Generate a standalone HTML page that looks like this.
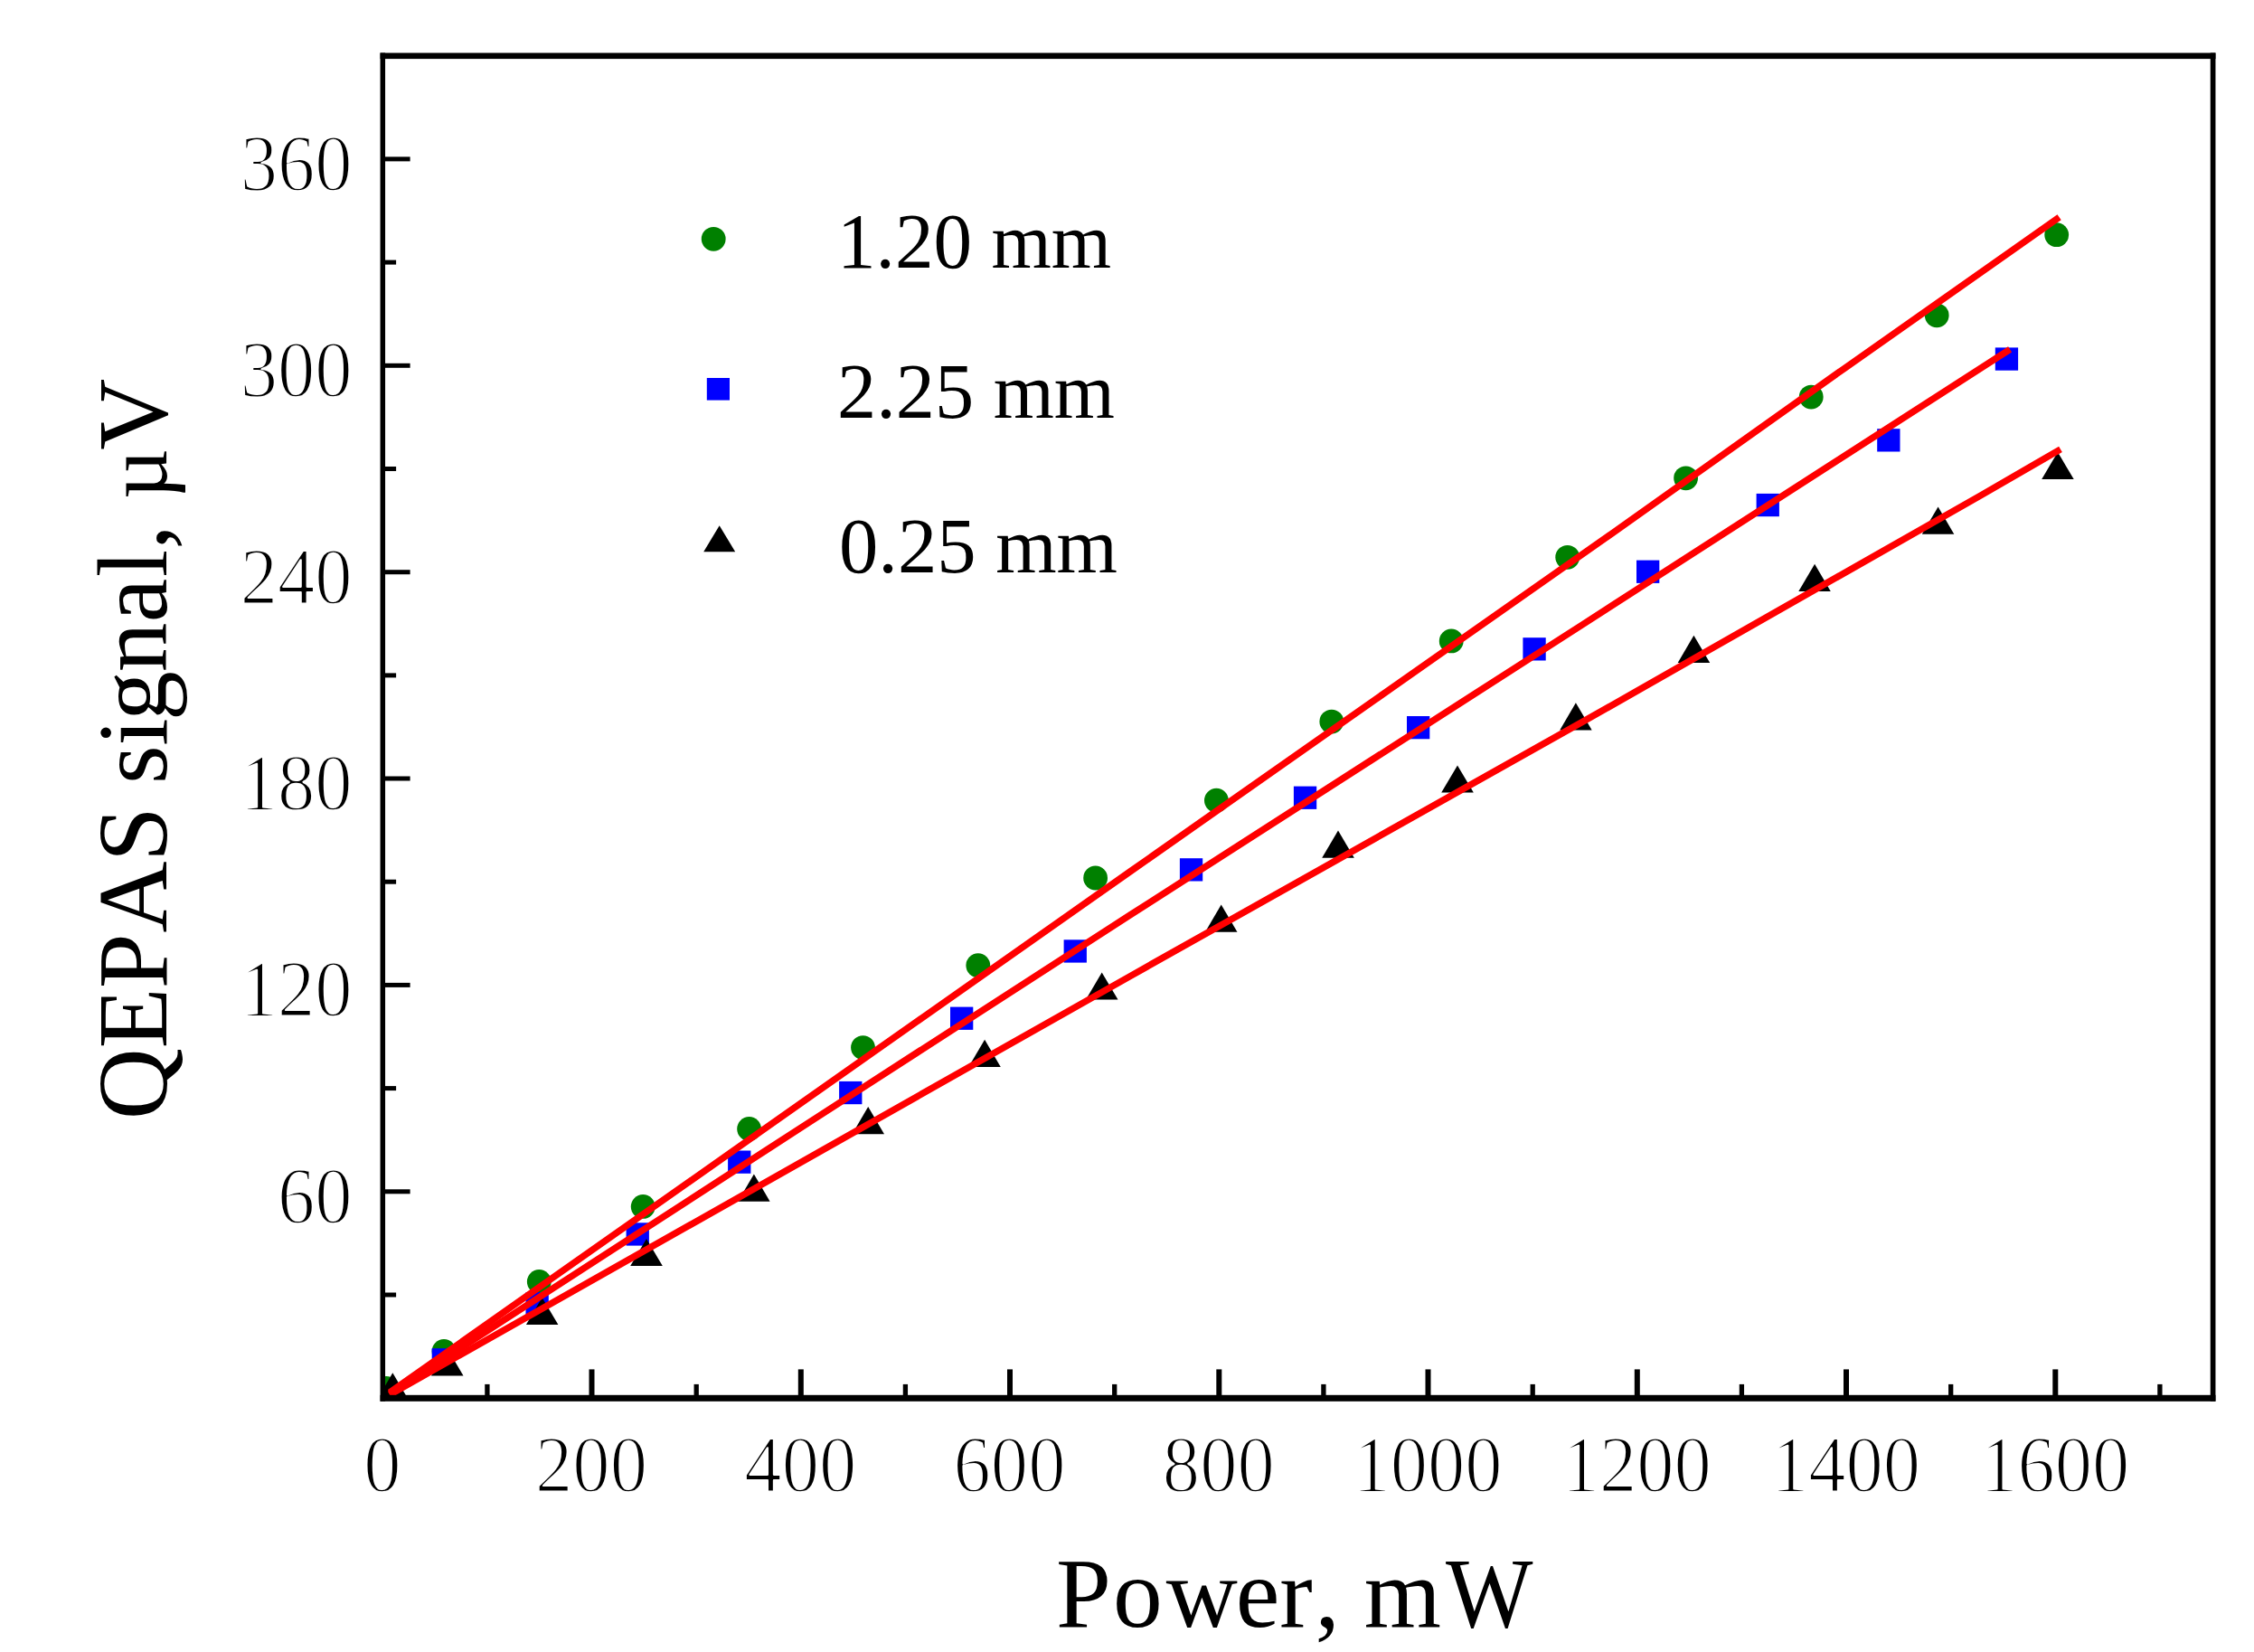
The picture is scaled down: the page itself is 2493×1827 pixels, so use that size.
<!DOCTYPE html>
<html lang="en"><head><meta charset="utf-8"><title>QEPAS signal vs Power</title>
<style>html,body{margin:0;padding:0;background:#fff}body{width:2493px;height:1827px;overflow:hidden}svg{display:block}text{font-family:"Liberation Serif", serif;fill:#000}</style>
</head><body>
<svg width="2493" height="1827" viewBox="0 0 2493 1827">
<rect x="0" y="0" width="2493" height="1827" fill="#fff"/>
<defs><clipPath id="plotclip"><rect x="421.8" y="59.8" width="2027.3" height="1488.9"/></clipPath></defs>
<g clip-path="url(#plotclip)">
<g fill="#008000">
<circle cx="427.2" cy="1535.3" r="13.4"/>
<circle cx="491.0" cy="1494.5" r="13.4"/>
<circle cx="596.3" cy="1417.4" r="13.4"/>
<circle cx="711.2" cy="1334.4" r="13.4"/>
<circle cx="828.6" cy="1248.4" r="13.4"/>
<circle cx="954.5" cy="1158.6" r="13.4"/>
<circle cx="1081.8" cy="1067.7" r="13.4"/>
<circle cx="1211.6" cy="971.0" r="13.4"/>
<circle cx="1345.4" cy="885.2" r="13.4"/>
<circle cx="1472.8" cy="798.1" r="13.4"/>
<circle cx="1605.2" cy="708.9" r="13.4"/>
<circle cx="1733.7" cy="616.3" r="13.4"/>
<circle cx="1864.6" cy="528.8" r="13.4"/>
<circle cx="2003.2" cy="439.1" r="13.4"/>
<circle cx="2142.2" cy="348.8" r="13.4"/>
<circle cx="2274.7" cy="259.7" r="13.4"/>
</g>
<g fill="#0000ff">
<rect x="477.7" y="1491.2" width="25.3" height="25.3"/>
<rect x="581.5" y="1429.1" width="25.3" height="25.3"/>
<rect x="692.6" y="1352.3" width="25.3" height="25.3"/>
<rect x="805.1" y="1272.5" width="25.3" height="25.3"/>
<rect x="928.1" y="1195.9" width="25.3" height="25.3"/>
<rect x="1051.0" y="1113.6" width="25.3" height="25.3"/>
<rect x="1176.6" y="1039.3" width="25.3" height="25.3"/>
<rect x="1304.9" y="949.2" width="25.3" height="25.3"/>
<rect x="1430.9" y="869.6" width="25.3" height="25.3"/>
<rect x="1556.0" y="792.0" width="25.3" height="25.3"/>
<rect x="1684.4" y="705.2" width="25.3" height="25.3"/>
<rect x="1810.0" y="619.6" width="25.3" height="25.3"/>
<rect x="1942.6" y="545.9" width="25.3" height="25.3"/>
<rect x="2076.2" y="474.2" width="25.3" height="25.3"/>
<rect x="2206.8" y="384.4" width="25.3" height="25.3"/>
</g>
<g fill="#000">
<polygon points="416.6,1548.5 452.1,1548.5 434.3,1518.3"/>
<polygon points="476.9,1521.4 512.5,1521.4 494.7,1491.2"/>
<polygon points="581.9,1465.1 617.4,1465.1 599.6,1434.9"/>
<polygon points="697.2,1400.1 732.8,1400.1 715.0,1369.9"/>
<polygon points="816.1,1328.7 851.6,1328.7 833.9,1298.5"/>
<polygon points="942.5,1254.3 978.0,1254.3 960.2,1224.1"/>
<polygon points="1071.3,1179.9 1106.8,1179.9 1089.1,1149.7"/>
<polygon points="1201.0,1105.6 1236.5,1105.6 1218.7,1075.4"/>
<polygon points="1333.0,1030.7 1368.5,1030.7 1350.7,1000.5"/>
<polygon points="1462.2,948.7 1497.8,948.7 1480.0,918.5"/>
<polygon points="1594.2,876.6 1629.8,876.6 1612.0,846.4"/>
<polygon points="1725.2,807.4 1760.7,807.4 1742.9,777.2"/>
<polygon points="1855.7,732.9 1891.2,732.9 1873.4,702.7"/>
<polygon points="1989.3,653.9 2024.8,653.9 2007.1,623.7"/>
<polygon points="2125.8,590.7 2161.3,590.7 2143.6,560.5"/>
<polygon points="2258.2,530.1 2293.7,530.1 2275.9,499.9"/>
</g>
<g stroke="#ff0000" stroke-width="7.4" fill="none" stroke-linecap="butt" stroke-linejoin="round">
<polyline points="431.0,1540.0 1250.0,963.9 1790.0,585.0 2040.0,407.4 2277.6,240.3"/>
<polyline points="431.0,1541.8 900.0,1238.0 1250.0,1011.9 1750.0,691.0 2223.1,386.3"/>
<polyline points="431.0,1542.5 1250.0,1079.6 1750.0,798.6 2050.0,628.0 2190.0,548.4 2279.0,496.9"/>
</g>
</g>
<g fill="#000">
<rect x="420.55" y="58.50" width="2029.90" height="6.60"/>
<rect x="420.55" y="1542.80" width="2029.90" height="7.00"/>
<rect x="420.55" y="58.50" width="5.50" height="1491.20"/>
<rect x="2444.75" y="58.50" width="5.70" height="1491.20"/>
</g>
<g stroke="#000" stroke-width="5" fill="none">
<line x1="538.9" y1="1543.9" x2="538.9" y2="1530.9" stroke-width="5.3"/>
<line x1="654.5" y1="1543.9" x2="654.5" y2="1514.4" stroke-width="6.0"/>
<line x1="770.2" y1="1543.9" x2="770.2" y2="1530.9" stroke-width="5.3"/>
<line x1="885.8" y1="1543.9" x2="885.8" y2="1514.4" stroke-width="6.0"/>
<line x1="1001.4" y1="1543.9" x2="1001.4" y2="1530.9" stroke-width="5.3"/>
<line x1="1117.0" y1="1543.9" x2="1117.0" y2="1514.4" stroke-width="6.0"/>
<line x1="1232.7" y1="1543.9" x2="1232.7" y2="1530.9" stroke-width="5.3"/>
<line x1="1348.3" y1="1543.9" x2="1348.3" y2="1514.4" stroke-width="6.0"/>
<line x1="1463.9" y1="1543.9" x2="1463.9" y2="1530.9" stroke-width="5.3"/>
<line x1="1579.5" y1="1543.9" x2="1579.5" y2="1514.4" stroke-width="6.0"/>
<line x1="1695.2" y1="1543.9" x2="1695.2" y2="1530.9" stroke-width="5.3"/>
<line x1="1810.8" y1="1543.9" x2="1810.8" y2="1514.4" stroke-width="6.0"/>
<line x1="1926.4" y1="1543.9" x2="1926.4" y2="1530.9" stroke-width="5.3"/>
<line x1="2042.0" y1="1543.9" x2="2042.0" y2="1514.4" stroke-width="6.0"/>
<line x1="2157.7" y1="1543.9" x2="2157.7" y2="1530.9" stroke-width="5.3"/>
<line x1="2273.3" y1="1543.9" x2="2273.3" y2="1514.4" stroke-width="6.0"/>
<line x1="2388.9" y1="1543.9" x2="2388.9" y2="1530.9" stroke-width="5.3"/>
<line x1="425.6" y1="1432.0" x2="438.1" y2="1432.0"/>
<line x1="425.6" y1="1317.8" x2="453.6" y2="1317.8"/>
<line x1="425.6" y1="1203.6" x2="438.1" y2="1203.6"/>
<line x1="425.6" y1="1089.4" x2="453.6" y2="1089.4"/>
<line x1="425.6" y1="975.2" x2="438.1" y2="975.2"/>
<line x1="425.6" y1="861.0" x2="453.6" y2="861.0"/>
<line x1="425.6" y1="746.9" x2="438.1" y2="746.9"/>
<line x1="425.6" y1="632.7" x2="453.6" y2="632.7"/>
<line x1="425.6" y1="518.5" x2="438.1" y2="518.5"/>
<line x1="425.6" y1="404.3" x2="453.6" y2="404.3"/>
<line x1="425.6" y1="290.1" x2="438.1" y2="290.1"/>
<line x1="425.6" y1="175.9" x2="453.6" y2="175.9"/>
</g>
<g font-size="88" stroke="#fff" stroke-width="2.2" stroke-linejoin="round">
<text x="422.8" y="1648.6" text-anchor="middle" textLength="41.3" lengthAdjust="spacingAndGlyphs">0</text>
<text x="654.0" y="1648.6" text-anchor="middle" textLength="123.9" lengthAdjust="spacingAndGlyphs">200</text>
<text x="885.3" y="1648.6" text-anchor="middle" textLength="123.9" lengthAdjust="spacingAndGlyphs">400</text>
<text x="1116.5" y="1648.6" text-anchor="middle" textLength="123.9" lengthAdjust="spacingAndGlyphs">600</text>
<text x="1347.8" y="1648.6" text-anchor="middle" textLength="123.9" lengthAdjust="spacingAndGlyphs">800</text>
<text x="1579.0" y="1648.6" text-anchor="middle" textLength="165.2" lengthAdjust="spacingAndGlyphs">1000</text>
<text x="1810.3" y="1648.6" text-anchor="middle" textLength="165.2" lengthAdjust="spacingAndGlyphs">1200</text>
<text x="2041.5" y="1648.6" text-anchor="middle" textLength="165.2" lengthAdjust="spacingAndGlyphs">1400</text>
<text x="2272.8" y="1648.6" text-anchor="middle" textLength="165.2" lengthAdjust="spacingAndGlyphs">1600</text>
<text x="389.6" y="1351.8" text-anchor="end" textLength="82.6" lengthAdjust="spacingAndGlyphs">60</text>
<text x="389.6" y="1123.4" text-anchor="end" textLength="123.9" lengthAdjust="spacingAndGlyphs">120</text>
<text x="389.6" y="895.0" text-anchor="end" textLength="123.9" lengthAdjust="spacingAndGlyphs">180</text>
<text x="389.6" y="666.7" text-anchor="end" textLength="123.9" lengthAdjust="spacingAndGlyphs">240</text>
<text x="389.6" y="438.3" text-anchor="end" textLength="123.9" lengthAdjust="spacingAndGlyphs">300</text>
<text x="389.6" y="209.9" text-anchor="end" textLength="123.9" lengthAdjust="spacingAndGlyphs">360</text>
</g>
<circle cx="789.2" cy="264.3" r="13.4" fill="#008000"/>
<rect x="781.8" y="418.0" width="25.2" height="24.6" fill="#0000ff"/>
<polygon points="778.2,610.2 813.2,610.2 795.7,581.2" fill="#000"/>
<g font-size="87">
<text x="926" y="296" textLength="303" lengthAdjust="spacingAndGlyphs">1.20 mm</text>
<text x="926" y="461.8" textLength="307" lengthAdjust="spacingAndGlyphs">2.25 mm</text>
<text x="928" y="633" textLength="308" lengthAdjust="spacingAndGlyphs">0.25 mm</text>
</g>
<text y="1799.3" font-size="109.5" x="1168.1 1231 1289.7 1366.7 1415.2 1454.4 1481.8 1508.8 1598.9">Power, m<tspan textLength="96.5" lengthAdjust="spacingAndGlyphs">W</tspan></text>
<text transform="translate(184,0) rotate(-90)" y="0" font-size="109.5" x="-1238.2 -1159.6 -1093.2 -1031.4 -953.0 -892.0 -867.0 -824.8 -797.0 -743.3 -688.3 -638.2 -607.8 -580.0 -552.0 -497.8">QEPAS signal, <tspan font-size="97">µ</tspan>V</text>
</svg>
</body></html>
